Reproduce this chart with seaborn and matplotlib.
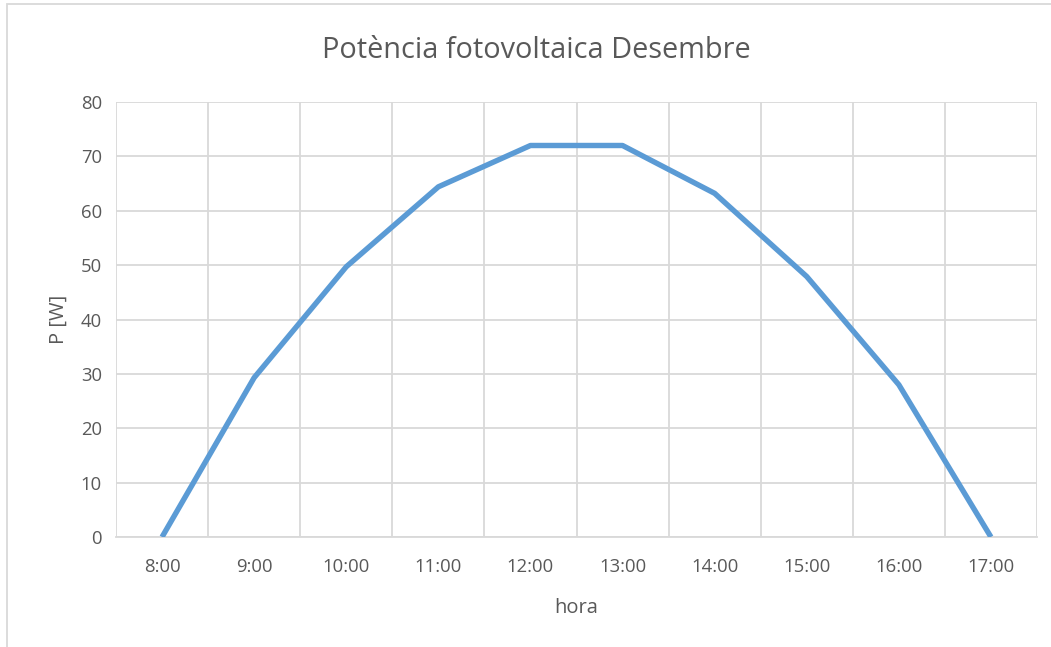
import matplotlib
matplotlib.use("Agg")
import matplotlib.pyplot as plt
from matplotlib.patches import Rectangle
import seaborn as sns
import pandas as pd
import numpy as np

# Hourly photovoltaic power for December
hours = ["8:00", "9:00", "10:00", "11:00", "12:00", "13:00",
         "14:00", "15:00", "16:00", "17:00"]
power_w = [0, 29.3, 49.7, 64.4, 72, 72, 63.2, 47.9, 28.0, 0]

title_text = "Potència fotovoltaica Desembre"
x_label = "hora"
y_label = "P [W]"
y_ticks = [0, 10, 20, 30, 40, 50, 60, 70, 80]

df = pd.DataFrame({"hora": hours, "P": power_w})

sns.set_theme(style="white")
plt.rcParams["font.family"] = ["Open Sans", "DejaVu Sans"]

text_col = "#595959"
grid_col = "#D9D9D9"
line_col = "#5B9BD5"

fig = plt.figure(figsize=(10.51, 6.47), dpi=100)
ax = fig.add_axes([116 / 1051, 1 - 537 / 647, (1037 - 116) / 1051, (537 - 102) / 647])

sns.lineplot(data=df, x="hora", y="P", ax=ax, color=line_col,
             linewidth=3.9, sort=False, solid_capstyle="butt", zorder=3)

n = len(hours)
ax.set_xlim(-0.5, n - 0.5)
ax.set_ylim(0, 80)
ax.set_yticks(y_ticks)
ax.set_xticks(range(n))
ax.set_xticklabels(hours)
ax.set_xticks(np.arange(-0.5, n, 1.0), minor=True)

ax.grid(False)
ax.grid(True, which="minor", axis="x", color=grid_col, linewidth=1.3)
ax.grid(True, which="major", axis="y", color=grid_col, linewidth=1.3)
ax.set_axisbelow(True)

for side in ["top", "left", "right"]:
    ax.spines[side].set_visible(False)
ax.spines["bottom"].set_color(grid_col)
ax.spines["bottom"].set_linewidth(1.3)

ax.tick_params(axis="both", which="both", length=0, labelsize=13.3,
               labelcolor=text_col)
ax.tick_params(axis="x", pad=15)
ax.tick_params(axis="y", pad=10)

ax.set_xlabel(x_label, fontsize=14.5, color=text_col, labelpad=16)
ax.set_ylabel(y_label, fontsize=14.5, color=text_col, labelpad=9)

fig.text(536 / 1051, 1 - 50 / 647, title_text, ha="center", va="center",
         fontsize=20.8, color=text_col)

# chart frame
fig.patches.append(Rectangle((7 / 1051, -0.1), 1.2, 1 - 4 / 647 + 0.1,
                             transform=fig.transFigure, fill=False,
                             edgecolor=grid_col, linewidth=1.3))

fig.savefig("out.png", dpi=100, facecolor="white")
